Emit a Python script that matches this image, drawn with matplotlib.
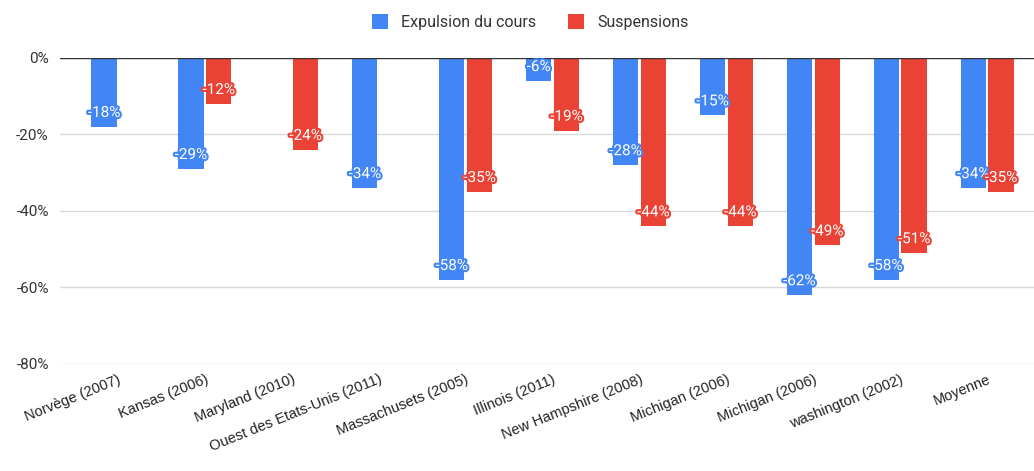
import numpy as np
import matplotlib
matplotlib.use("Agg")
import matplotlib.pyplot as plt
import matplotlib.patheffects as pe
from matplotlib.ticker import FuncFormatter

categories = ["Norvège (2007)", "Kansas (2006)", "Maryland (2010)",
              "Ouest des Etats-Unis (2011)", "Massachusets (2005)",
              "Illinois (2011)", "New Hampshire (2008)", "Michigan (2006)",
              "Michigan (2006)", "washington (2002)", "Moyenne"]
expulsion = [-18, -29, np.nan, -34, -58, -6, -28, -15, -62, -58, -34]
suspensions = [np.nan, -12, -24, np.nan, -35, -19, -44, -44, -49, -51, -35]
series_names = ["Expulsion du cours", "Suspensions"]
yticks = [0, -20, -40, -60, -80]

BLUE = "#4285F4"
RED = "#EA4335"

plt.rcParams["font.family"] = ["Roboto", "DejaVu Sans"]

fig = plt.figure(figsize=(10.34, 4.71), dpi=100)
ax = fig.add_axes([0.058, 0.2272, 0.942, 0.6497])

x = np.arange(len(categories))
w = 0.29
off = 0.16

for vals, dx, col, name in [(expulsion, -off, BLUE, series_names[0]),
                            (suspensions, off, RED, series_names[1])]:
    v = np.array(vals, dtype=float)
    ax.bar(x + dx, v, width=w, color=col, label=name, zorder=3)
    for xi, vi in zip(x, v):
        if np.isnan(vi):
            continue
        ax.text(xi + dx, vi + 1.8, f"{vi:.0f}%", ha="center", va="bottom",
                color="white", fontsize=11, zorder=5,
                path_effects=[pe.withStroke(linewidth=3, foreground=col)])

ax.set_ylim(-80, 0)
ax.set_xlim(-0.667, len(categories) - 0.46)
ax.set_yticks(yticks)
ax.yaxis.set_major_formatter(FuncFormatter(lambda v, p: f"{v:.0f}%"))
ax.grid(axis="y", color="#d9d9d9", linewidth=1, zorder=0)
ax.axhline(0, color="#333333", linewidth=1, zorder=4)
for s in ax.spines.values():
    s.set_visible(False)
ax.tick_params(axis="y", length=0, labelsize=11, labelcolor="#333333", pad=8)
ax.tick_params(axis="x", length=0, labelsize=10.5, labelcolor="#222222", pad=6)
ax.set_xticks(x)
ax.set_xticklabels(categories, rotation=22, ha="right", rotation_mode="anchor",
                   fontfamily=["Liberation Sans", "DejaVu Sans"])
for lbl in ax.get_xticklabels():
    lbl.set_x(lbl.get_position()[0])

leg = fig.legend(loc="center", bbox_to_anchor=(0.513, 0.953), ncol=2,
                 frameon=False, fontsize=11.5, handlelength=1.0,
                 handleheight=1.0, columnspacing=2.0, handletextpad=0.8)
for t in leg.get_texts():
    t.set_color("#333333")

fig.savefig("out.png", dpi=100)
